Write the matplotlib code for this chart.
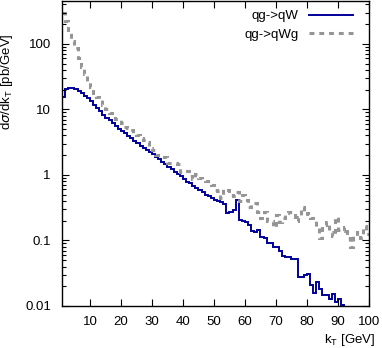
import numpy as np
import matplotlib
matplotlib.use("Agg")
import matplotlib.pyplot as plt
from matplotlib.ticker import LogLocator, FixedLocator, NullFormatter, FixedFormatter

plt.rcParams['font.family'] = ['Liberation Sans', 'DejaVu Sans']
plt.rcParams['font.size'] = 9.5

# bin edges of k_T (1 GeV bins)
bin_edges = np.arange(1, 101)

# qg->qW (solid blue), one value per 1 GeV bin starting at k_T = 1
qW = [15.5, 20.5, 21.5, 21.5, 20.5, 19, 17.5, 16, 14.8, 13.2,
      11.7, 10.5, 9.3, 8.3, 7.4, 6.8, 6.2, 5.6, 5.1, 4.7,
      4.3, 3.9, 3.6, 3.3, 3.05, 2.8, 2.6, 2.4, 2.2, 2.05,
      1.86, 1.72, 1.58, 1.45, 1.32, 1.22, 1.12, 1.03, 0.95, 0.87,
      0.79, 0.74, 0.68, 0.63, 0.59, 0.54, 0.5, 0.47, 0.44, 0.42,
      0.4, 0.38, 0.36, 0.26, 0.27, 0.29, 0.41, 0.205, 0.2, 0.19,
      0.175, 0.14, 0.135, 0.145, 0.113, 0.11, 0.09, 0.092, 0.08, 0.08,
      0.07, 0.057, 0.056, 0.055, 0.052, 0.052, 0.028, 0.028, 0.03, 0.031,
      0.021, 0.016, 0.023, 0.018, 0.0147, 0.0145, 0.013, 0.015, 0.0115, 0.013,
      0.0105, 0, 0, 0, 0, 0, 0, 0, 0]

# qg->qWg (dashed grey)
qWg = [300, 220, 150, 110, 85, 60, 45, 35, 27, 22,
       18, 15.5, 14, 11.5, 10, 8.9, 8, 7.2, 6.9, 6.2,
       5.4, 5.2, 4.8, 4.4, 4.0, 3.7, 3.4, 3.2, 2.6, 2.4,
       2.0, 2.0, 1.9, 1.85, 1.5, 1.5, 1.5, 1.45, 1.12, 1.15,
       1.15, 0.95, 0.87, 1.05, 0.9, 0.88, 0.82, 0.72, 0.7, 0.58,
       0.56, 0.45, 0.6, 0.58, 0.5, 0.48, 0.55, 0.4, 0.5, 0.42,
       0.32, 0.37, 0.37, 0.27, 0.22, 0.27, 0.2, 0.2, 0.16, 0.245,
       0.19, 0.22, 0.26, 0.27, 0.27, 0.2, 0.23, 0.32, 0.25, 0.26,
       0.22, 0.2, 0.16, 0.11, 0.17, 0.19, 0.135, 0.115, 0.225, 0.145,
       0.14, 0.16, 0.11, 0.08, 0.115, 0.135, 0.11, 0.165, 0.125]

x_ticks = [10, 20, 30, 40, 50, 60, 70, 80, 90, 100]
y_ticks = [0.01, 0.1, 1, 10, 100]
y_tick_labels = ['0.01', '0.1', '1', '10', '100']

fig = plt.figure(figsize=(3.82, 3.48), dpi=100)
ax = fig.add_axes([62/382, 42/348, (369-62)/382, (306-1)/348])

ax.stairs(qW, bin_edges, baseline=None, color='#00009a', lw=1.4, label='qg->qW')
ax.stairs(qWg, bin_edges, baseline=None, color='#959595', lw=2.2,
          linestyle=(0, (1.6, 1.6)), label='qg->qWg')

ax.set_yscale('log')
ax.set_xlim(1, 100)
ax.set_ylim(0.01, 450)

ax.xaxis.set_major_locator(FixedLocator(x_ticks))
ax.set_xticklabels([str(t) for t in x_ticks])
ax.yaxis.set_major_locator(FixedLocator(y_ticks))
ax.yaxis.set_major_formatter(FixedFormatter(y_tick_labels))
ax.yaxis.set_minor_locator(LogLocator(base=10, subs=np.arange(2, 10)))
ax.yaxis.set_minor_formatter(NullFormatter())

ax.tick_params(which='both', direction='in', top=True, right=True)
ax.tick_params(which='major', length=5, width=0.8)
ax.tick_params(axis='x', which='major', pad=7)
ax.tick_params(axis='y', which='major', pad=8)
ax.tick_params(which='minor', length=3, width=0.8)
for s in ax.spines.values():
    s.set_linewidth(1.0)

ax.set_xlabel(r'k$_\mathregular{T}$ [GeV]', loc='right')
ax.xaxis.set_label_coords(1.02, -0.085)
ax.set_ylabel(r'd$\sigma$/dk$_\mathregular{T}$ [pb/GeV]')
ax.yaxis.set_label_coords(-0.153, 0.734)

leg = ax.legend(loc='upper right', frameon=False, markerfirst=False,
                handlelength=3.3, handletextpad=0.8, labelspacing=0.45,
                borderaxespad=0.3, fontsize=9.5,
                bbox_to_anchor=(1 - 7/307, 1))

fig.savefig('out.png', dpi=100)
